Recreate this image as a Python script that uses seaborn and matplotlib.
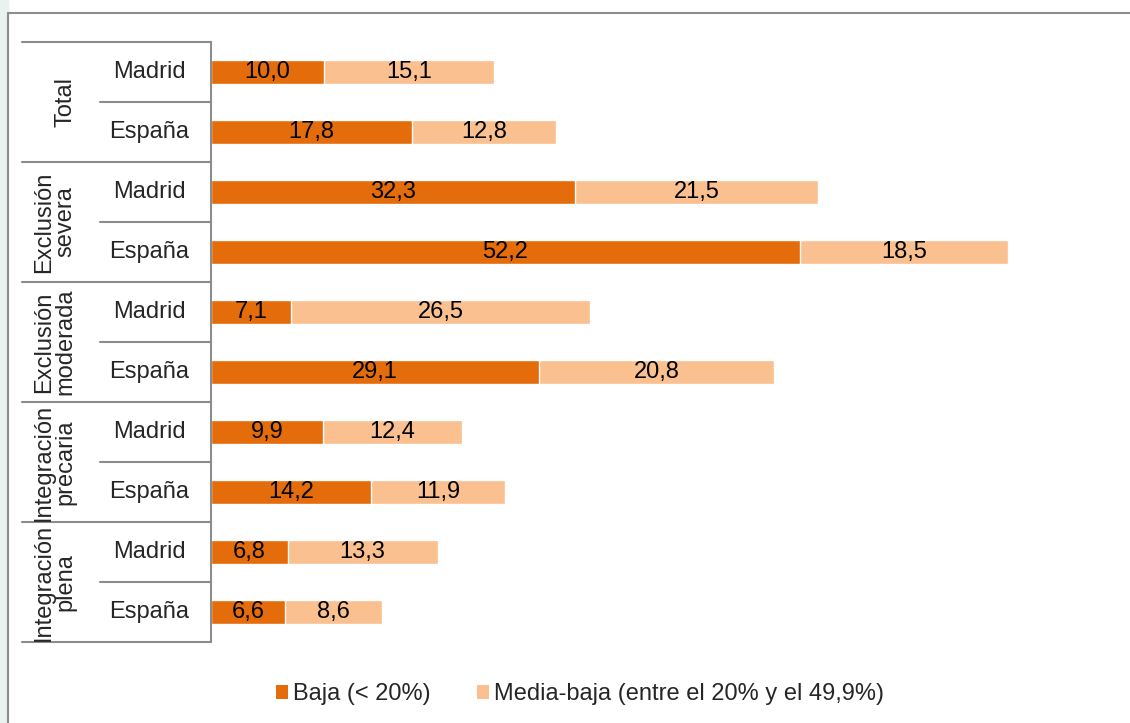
import numpy as np
import pandas as pd
import matplotlib
matplotlib.use("Agg")
import matplotlib.pyplot as plt
import matplotlib.transforms as mtransforms
from matplotlib.patches import Patch, Rectangle
import seaborn as sns

# Datos
grupos = ["Total", "Exclusión\nsevera", "Exclusión\nmoderada",
          "Integración\nprecaria", "Integración\nplena"]
territorios = ["Madrid", "España"]
baja = [10.0, 17.8, 32.3, 52.2, 7.1, 29.1, 9.9, 14.2, 6.8, 6.6]
media_baja = [15.1, 12.8, 21.5, 18.5, 26.5, 20.8, 12.4, 11.9, 13.3, 8.6]
series = ["Baja (< 20%)", "Media-baja (entre el 20% y el 49,9%)"]

COL_BAJA = "#E46C0A"
COL_MEDIA = "#FAC090"
LINE = "#8c8c8c"

sns.set_style("white")
plt.rcParams["font.family"] = ["Liberation Sans", "DejaVu Sans"]
FS = 17

filas = [f"{g}|{t}" for g in grupos for t in territorios]
df = pd.DataFrame({
    "fila": filas,
    "baja": baja,
    "media": media_baja,
})
df["total"] = df["baja"] + df["media"]

W, H = 1130, 723
fig = plt.figure(figsize=(W / 100, H / 100), dpi=100)
fig.patch.set_facecolor("white")

# franja de fondo a la izquierda + marco
fig.add_artist(Rectangle((0, 0), 8 / W, 1, transform=fig.transFigure,
                         color="#e9f2ef", zorder=0))
fig.add_artist(plt.Line2D([8 / W, 8 / W], [0, 1 - 13 / H], color=LINE, lw=1.5,
                          transform=fig.transFigure))
fig.add_artist(plt.Line2D([8 / W, 1], [1 - 13 / H, 1 - 13 / H], color=LINE, lw=1.5,
                          transform=fig.transFigure))

x0, x1 = 211 / W, 1113 / W
y_top, y_bot = 42 / H, 642 / H
ax = fig.add_axes([x0, 1 - y_bot, x1 - x0, y_bot - y_top])

# barras apiladas: total (claro) y encima la parte baja (oscuro)
sns.barplot(data=df, y="fila", x="total", color=COL_MEDIA, orient="h",
            width=0.4, ax=ax, saturation=1, errorbar=None)
sns.barplot(data=df, y="fila", x="baja", color=COL_BAJA, orient="h",
            width=0.4, ax=ax, saturation=1, errorbar=None)

ax.set_xlim(0, 80)
ax.set_ylim(len(filas) - 0.5, -0.5)
ax.set_xlabel("")
ax.set_ylabel("")
ax.set_xticks([])
ax.set_yticks([])
for s in ["top", "right", "bottom"]:
    ax.spines[s].set_visible(False)
ax.spines["left"].set_color(LINE)
ax.spines["left"].set_linewidth(1.5)

# etiquetas de valores
for i, (b, m) in enumerate(zip(baja, media_baja)):
    ax.text(b / 2, i, f"{b:.1f}".replace(".", ","), ha="center", va="center",
            fontsize=FS, color="black")
    ax.text(b + m / 2, i, f"{m:.1f}".replace(".", ","), ha="center", va="center",
            fontsize=FS, color="black")

# tabla de categorías en dos niveles
tr = mtransforms.blended_transform_factory(fig.transFigure, ax.transData)
for k in range(len(grupos) + 1):
    y = 2 * k - 0.5
    ax.plot([22 / W, x0], [y, y], color=LINE, lw=1.5, transform=tr, clip_on=False)
for k in range(len(grupos)):
    y = 2 * k + 0.5
    ax.plot([100 / W, x0], [y, y], color=LINE, lw=1.5, transform=tr, clip_on=False)
    ax.text(76 / W, 2 * k + 0.5, grupos[k], rotation=90, ha="right", va="center",
            multialignment="center", fontsize=FS, transform=tr, linespacing=0.95)
    for j, t in enumerate(territorios):
        ax.text(149 / W, 2 * k + j, t, ha="center", va="center", fontsize=FS,
                transform=tr)

handles = [Patch(facecolor=COL_BAJA, edgecolor="none"),
           Patch(facecolor=COL_MEDIA, edgecolor="none")]
fig.legend(handles, series, loc="center", bbox_to_anchor=(580 / W, 1 - 694 / H),
           ncol=2, frameon=False, fontsize=FS, handlelength=0.5, handleheight=0.55,
           handletextpad=0.2, columnspacing=2.0)

fig.savefig("out.png", dpi=100, facecolor="white")
